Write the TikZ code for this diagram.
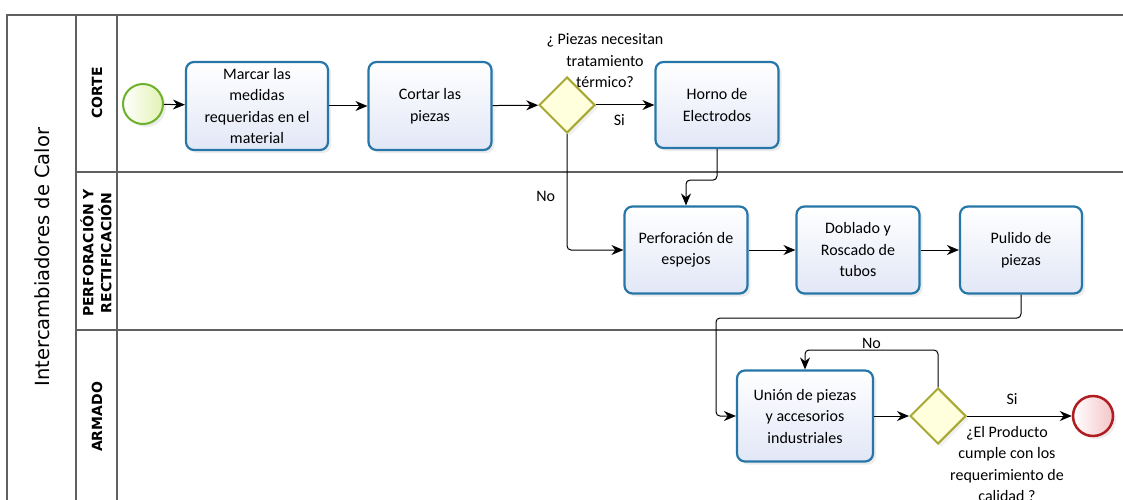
\documentclass[tikz,border=0pt]{standalone}
\usepackage{fontspec}
\setmainfont{Carlito}
\newfontfamily\lanefont{DejaVu Sans}
\usetikzlibrary{shapes.geometric}
\usetikzlibrary{positioning}
\usetikzlibrary{arrows.meta}
\usetikzlibrary{shadows}
\definecolor{taskline}{RGB}{38,118,168}
\definecolor{taskfill}{RGB}{226,231,247}
\definecolor{startline}{RGB}{108,178,45}
\definecolor{startfill}{RGB}{226,242,178}
\definecolor{endline}{RGB}{176,28,32}
\definecolor{endfill}{RGB}{244,196,200}
\definecolor{gateline}{RGB}{166,168,50}
\definecolor{gatefill}{RGB}{255,255,222}
\definecolor{poolline}{RGB}{96,96,96}

\begin{document}
\begin{tikzpicture}[x=1pt,y=-1pt]
\tikzstyle{task}=[draw=taskline,line width=2.2pt,rounded corners=8pt,top color=white,bottom color=taskfill,
  minimum width=123pt,minimum height=87pt,align=center,font=\fontsize{16}{21.5}\selectfont,
  drop shadow={opacity=0.15,shadow xshift=3pt,shadow yshift=-3pt}]
\tikzstyle{gate}=[diamond,draw=gateline,line width=2pt,fill=gatefill,minimum width=56pt,minimum height=56pt,inner sep=0pt,
  drop shadow={opacity=0.12,shadow xshift=3pt,shadow yshift=-3pt}]
\tikzstyle{flow}=[-{Stealth[length=12pt,width=10pt]},line width=1pt,rounded corners=4pt]
\tikzstyle{lbl}=[align=center,font=\fontsize{16}{21.5}\selectfont]
\tikzstyle{lanelbl}=[rotate=90,align=center,font=\lanefont\bfseries\fontsize{14}{18}\selectfont]
\useasboundingbox (0,0) rectangle (1123,500);

% pool and lanes
\draw[poolline,line width=1.5pt] (7,500) -- (7,15) -- (1123,15);
\draw[poolline,line width=1.5pt] (76,15) -- (76,500);
\draw[poolline,line width=1.5pt] (117,15) -- (117,500);
\draw[poolline,line width=1.5pt] (76,172) -- (1123,172);
\draw[poolline,line width=1.5pt] (76,330) -- (1123,330);
\node[rotate=90,font=\lanefont\fontsize{19.5}{24}\selectfont] (pool) at (42,257) {Intercambiadores de Calor};
\node[lanelbl] (corte) at (97,93) {CORTE};
\node[lanelbl] (perfo) at (96,253) {PERFORACIÓN Y\\RECTIFICACIÓN};
\node[lanelbl] (armado) at (97,417) {ARMADO};

% corte
\node[circle,draw=startline,line width=2pt,left color=white,right color=startfill,minimum size=40pt,
  drop shadow={opacity=0.15,shadow xshift=3pt,shadow yshift=-3pt}] (inicio) at (143,104) {};
\node[task,minimum width=142pt,minimum height=88pt] (marcar) at (257,106) {Marcar las\\medidas\\requeridas en el\\material};
\node[task,minimum height=88pt] (cortar) at (430,106) {Cortar las\\piezas};
\node[gate] (g1) at (567,105) {};
\node[lbl] (q1) at (605,61) {¿ Piezas necesitan\\tratamiento\\térmico?};
\node[task,minimum height=86pt] (horno) at (717,105) {Horno de\\Electrodos};

% perforacion
\node[task] (perfor) at (686,250) {Perforación de\\espejos};
\node[task] (doblado) at (858,250) {Doblado y\\Roscado de\\tubos};
\node[task,minimum width=122pt] (pulido) at (1021,250) {Pulido de\\piezas};

% armado
\node[task,minimum width=136pt,minimum height=91pt] (union) at (805,416) {Unión de piezas\\y accesorios\\industriales};
\node[gate] (g2) at (938,416) {};
\node[lbl] (q2) at (1007,464) {¿El Producto\\cumple con los\\requerimiento de\\calidad ?};
\node[circle,draw=endline,line width=2.5pt,left color=white,right color=endfill,minimum size=40pt,
  drop shadow={opacity=0.15,shadow xshift=3pt,shadow yshift=-3pt}] (fin) at (1093,416) {};
\coordinate (pbend) at (716,318);

\draw[flow] (inicio) -- (marcar);
\draw[flow] (marcar) -- (cortar);
\draw[flow] (cortar) -- (g1);
\draw[flow] (g1) -- node[lbl,pos=0.4,below=6pt] {Si} (horno);
\draw[flow] (horno.south) -- ++(0,31) -| (perfor.north);
\draw[flow] (g1.south) |- node[lbl,pos=0.27,left=8pt] {No} (perfor.west);
\draw[flow] (perfor) -- (doblado);
\draw[flow] (doblado) -- (pulido);
\draw[flow] (pulido.south) |- (pbend) |- (union.west);
\draw[flow] (union) -- (g2);
\draw[flow] (g2) -- node[lbl,pos=0.43,above=8pt] {Si} (fin);
\draw[flow] (g2.north) -- ++(0,-37) -| node[lbl,pos=0.25,above=-2pt] {No} (union.north);
\end{tikzpicture}
\end{document}
